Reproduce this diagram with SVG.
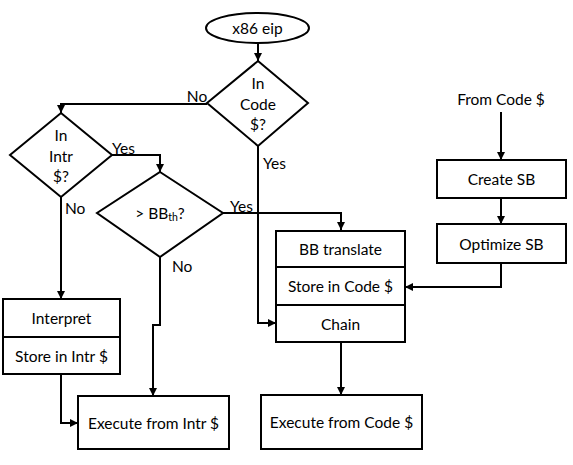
<svg xmlns="http://www.w3.org/2000/svg" width="573" height="465" viewBox="0 0 573 465">
<style>
.s{fill:#fff;stroke:#000;stroke-width:2}
.c{fill:none;stroke:#000;stroke-width:2;marker-end:url(#a)}
text{font-family:Lato,"Open Sans","Liberation Sans",sans-serif;font-size:15.5px;fill:#000;text-anchor:middle;dominant-baseline:central}
.l{text-anchor:start}
</style>
<defs><marker id="a" viewBox="0 0 8 8" refX="8" refY="4" markerWidth="4" markerHeight="4" orient="auto" markerUnits="strokeWidth"><path d="M0,0L8,4L0,8z" fill="#000"/></marker></defs>
<rect width="573" height="465" fill="#fff"/>
<g id="connectors">
<path class="c" d="M258,43V61"/>
<path class="c" d="M207,104H61V113"/>
<path class="c" d="M112,155H160V172"/>
<path class="c" d="M223,213H341V230"/>
<path class="c" d="M258,146V323H276"/>
<path class="c" d="M61,197V299"/>
<path class="c" d="M61,374V423H78"/>
<path class="c" d="M160,257V325H153V396"/>
<path class="c" d="M341,342V395"/>
<path class="c" d="M501,112V160"/>
<path class="c" d="M501,198V224"/>
<path class="c" d="M501,263V287H405"/>
</g>
<g id="labels">
<text x="197" y="96">No</text>
<text x="263" y="163" class="l">Yes</text>
<text x="112" y="148" class="l">Yes</text>
<text x="65" y="208" class="l">No</text>
<text x="230" y="206" class="l">Yes</text>
<text x="172" y="266" class="l">No</text>
</g>
<g id="start"><ellipse class="s" cx="257.5" cy="28" rx="51.5" ry="15"/><text x="257.5" y="28">x86 eip</text></g>
<g id="incode"><path class="s" d="M258,61L308,103L258,146L207,103z"/><text x="258" y="83">In</text><text x="258" y="104">Code</text><text x="258" y="124">$?</text></g>
<g id="inintr"><path class="s" d="M61,113L112,155L61,197L10,155z"/><text x="61" y="135">In</text><text x="61" y="156">Intr</text><text x="61" y="176">$?</text></g>
<g id="bbth"><path class="s" d="M160,172L223,213L160,257L97,213z"/><text x="160" y="213">&gt; BB<tspan font-size="10.5" dy="4">th</tspan><tspan dy="-4">?</tspan></text></g>
<g id="codebox"><rect class="s" x="276" y="231" width="129" height="111"/><path d="M276,267H405M276,305H405" stroke="#000" stroke-width="2"/>
<text x="340.5" y="249">BB translate</text><text x="340.5" y="286">Store in Code $</text><text x="340.5" y="323.5">Chain</text></g>
<g id="intrbox"><rect class="s" x="3" y="299" width="117" height="75"/><path d="M3,337H120" stroke="#000" stroke-width="2"/>
<text x="61.5" y="318">Interpret</text><text x="61.5" y="356">Store in Intr $</text></g>
<g id="execintr"><rect class="s" x="78" y="396" width="151" height="53"/><text x="153.5" y="423">Execute from Intr $</text></g>
<g id="execcode"><rect class="s" x="261" y="395" width="161" height="54"/><text x="341.5" y="422">Execute from Code $</text></g>
<g id="fromcode"><text x="501" y="99">From Code $</text></g>
<g id="createsb"><rect class="s" x="437" y="160" width="129" height="38"/><text x="501.5" y="179">Create SB</text></g>
<g id="optsb"><rect class="s" x="437" y="224" width="129" height="39"/><text x="501.5" y="243.5">Optimize SB</text></g>
</svg>
